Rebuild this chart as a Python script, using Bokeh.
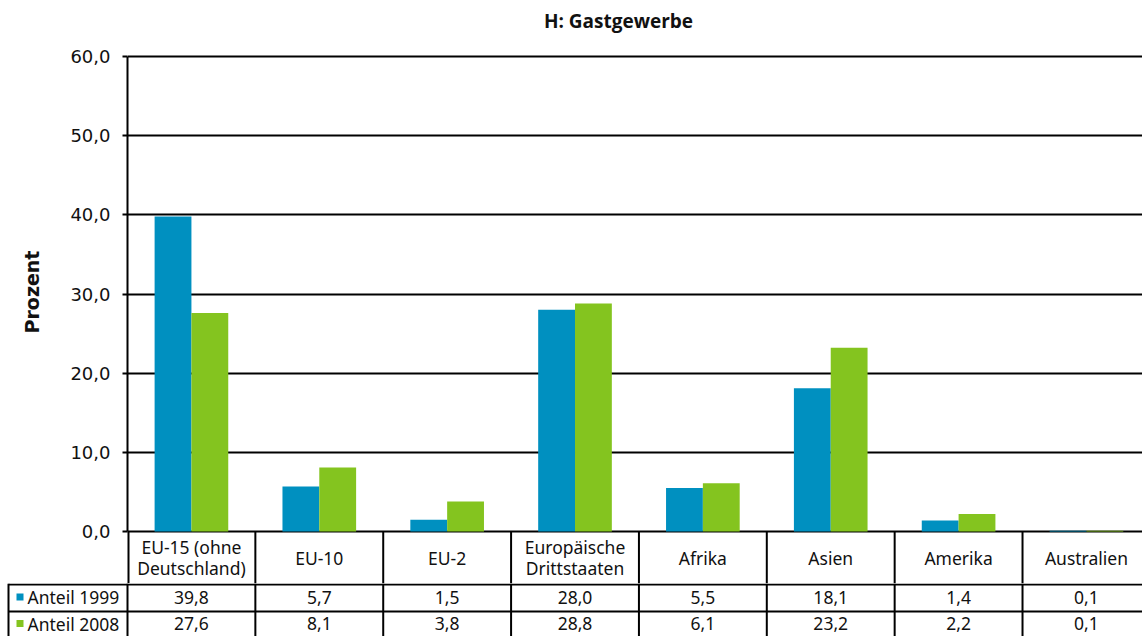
from bokeh.plotting import figure
from bokeh.models import Range1d, FixedTicker
from bokeh.layouts import column
from bokeh.embed import file_html
from bokeh.resources import INLINE
from bokeh.core.properties import value

# ---------------- data ----------------
categories = ["EU-15 (ohne Deutschland)", "EU-10", "EU-2", "Europäische Drittstaaten",
              "Afrika", "Asien", "Amerika", "Australien"]
header_labels = ["EU-15 (ohne\nDeutschland)", "EU-10", "EU-2", "Europäische\nDrittstaaten",
                 "Afrika", "Asien", "Amerika", "Australien"]
anteil_1999 = [39.8, 5.7, 1.5, 28.0, 5.5, 18.1, 1.4, 0.1]
anteil_2008 = [27.6, 8.1, 3.8, 28.8, 6.1, 23.2, 2.2, 0.1]
series_names = ["Anteil 1999", "Anteil 2008"]
y_ticks = [0, 10, 20, 30, 40, 50, 60]
y_tick_labels = ["0,0", "10,0", "20,0", "30,0", "40,0", "50,0", "60,0"]
title_text = "H: Gastgewerbe"
y_title = "Prozent"

# ---------------- style / layout ----------------
BLUE = "#0090C0"
GREEN = "#84C41F"
INK = "#111111"
TABLE_FONT = "Noto Sans"
TABLE_SIZE = "17.5px"
W = 1142
COL_PX = 127.86            # pixels per category
FRAME_LEFT = 127           # figure px left of the plot frame
PXY = 475 / 60             # pixels per percent
TOP_PX = 56                # px above the 60 line (title area)
HEAD_PX = 52               # header row height
x_end = (W - FRAME_LEFT) / COL_PX
x_start_full = -FRAME_LEFT / COL_PX
y_top = 60 + TOP_PX / PXY
y_bottom = -HEAD_PX / PXY
n = len(categories)
centers = [i + 0.5 for i in range(n)]
bounds_x = list(range(n))
bw = 0.288


def fmt(v):
    return f"{v:.1f}".replace(".", ",")


# ---------------- chart (with header row of the table) ----------------
p = figure(width=W, height=TOP_PX + 475 + HEAD_PX, x_range=Range1d(0, x_end),
           y_range=Range1d(y_bottom, y_top), output_backend="svg", toolbar_location=None,
           x_axis_location=None, min_border_left=FRAME_LEFT, min_border_right=0,
           min_border_top=0, min_border_bottom=0, frame_align=False)
p.outline_line_color = None
p.xgrid.grid_line_color = None

p.vbar(x=[c - bw / 2 for c in centers], top=anteil_1999, width=bw, color=BLUE, line_color=None)
p.vbar(x=[c + bw / 2 for c in centers], top=anteil_2008, width=bw, color=GREEN, line_color=None)

ticker = FixedTicker(ticks=y_ticks)
p.yaxis.ticker = ticker
p.yaxis.bounds = (0, 60)
p.yaxis.major_label_overrides = {t: l for t, l in zip(y_ticks, y_tick_labels)}
p.yaxis.axis_line_color = "black"
p.yaxis.axis_line_width = 2
p.yaxis.major_tick_out = 5
p.yaxis.major_tick_in = 0
p.yaxis.major_tick_line_width = 2
p.yaxis.major_tick_line_color = "black"
p.yaxis.minor_tick_line_color = None
p.yaxis.major_label_text_font = "DejaVu Sans"
p.yaxis.major_label_text_font_size = "18px"
p.yaxis.major_label_text_color = INK
p.yaxis.major_label_standoff = 12
p.yaxis.axis_label = y_title
p.yaxis.axis_label_text_font = "DejaVu Sans"
p.yaxis.axis_label_text_font_style = "bold"
p.yaxis.axis_label_text_font_size = "19px"
p.yaxis.axis_label_text_color = INK
p.yaxis.axis_label_standoff = 24

p.ygrid.ticker = ticker
p.ygrid.grid_line_color = "black"
p.ygrid.grid_line_width = 2
p.ygrid.bounds = (0, 60)

# title
p.text(x=[(618 - FRAME_LEFT) / COL_PX], y=[60 + 36 / PXY], text=[title_text],
       text_align="center", text_baseline="middle", text_font=value("Open Sans"),
       text_font_style="bold", text_font_size="19px", text_color=INK)

# header row
p.segment(x0=bounds_x[1:], y0=[0] * (n - 1), x1=bounds_x[1:], y1=[y_bottom] * (n - 1),
          line_color="black", line_width=2)
p.segment(x0=[0], y0=[0], x1=[0], y1=[y_bottom], line_color="black", line_width=4)
p.text(x=centers, y=[-26 / PXY] * n, text=header_labels, text_align="center",
       text_baseline="middle", text_font=value(TABLE_FONT), text_font_size=TABLE_SIZE,
       text_color=INK, text_line_height=0.84)

# ---------------- data rows of the table ----------------
ROWS_PX = 53
q = figure(width=W, height=ROWS_PX, x_range=Range1d(x_start_full, x_end),
           y_range=Range1d(ROWS_PX, 0), output_backend="svg", toolbar_location=None,
           x_axis_location=None, y_axis_location=None, min_border=0, frame_align=False)
q.outline_line_color = None
q.xgrid.grid_line_color = None
q.ygrid.grid_line_color = None

left_edge = x_start_full + 8 / COL_PX
q.segment(x0=[left_edge] * 2, y0=[1, 28], x1=[x_end] * 2, y1=[1, 28],
          line_color="black", line_width=2)
q.segment(x0=bounds_x, y0=[0] * n, x1=bounds_x, y1=[ROWS_PX] * n,
          line_color="black", line_width=2)
q.segment(x0=[left_edge], y0=[0], x1=[left_edge], y1=[ROWS_PX],
          line_color="black", line_width=2)

q.text(x=centers, y=[13.5] * n, text=[fmt(v) for v in anteil_1999], text_align="center",
       text_baseline="middle", text_font=value(TABLE_FONT), text_font_size=TABLE_SIZE,
       text_color=INK)
q.text(x=centers, y=[40] * n, text=[fmt(v) for v in anteil_2008], text_align="center",
       text_baseline="middle", text_font=value(TABLE_FONT), text_font_size=TABLE_SIZE,
       text_color=INK)

lx = x_start_full + 19.5 / COL_PX
tx = x_start_full + 27 / COL_PX
q.scatter(x=[lx, lx], y=[13.5, 40], marker="square", size=7, color=[BLUE, GREEN],
          line_color=None)
q.text(x=[tx, tx], y=[13.5, 40], text=series_names, text_align="left", text_baseline="middle",
       text_font=value(TABLE_FONT), text_font_size=TABLE_SIZE, text_color=INK)

layout = column(p, q, spacing=0)
open("out.html", "w").write(file_html(layout, INLINE))
